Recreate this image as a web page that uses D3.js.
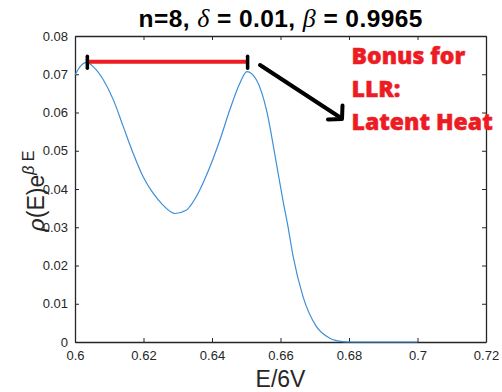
<!DOCTYPE html>
<html>
<head>
<meta charset="utf-8">
<script src="https://cdn.jsdelivr.net/npm/d3@7"></script>
<style>
  html, body { margin: 0; padding: 0; background: #fff; }
  svg { display: block; }
</style>
</head>
<body>
<svg id="chart" width="502" height="392"></svg>
<script>
// --- data ---
const energy = [0.6000, 0.6015, 0.6034, 0.6053, 0.6083, 0.6112, 0.6141, 0.6170, 0.6199,
  0.6228, 0.6257, 0.6292, 0.6326, 0.6335, 0.6364, 0.6394, 0.6423, 0.6452, 0.6481,
  0.6502, 0.6530, 0.6559, 0.6588, 0.6607, 0.6622, 0.6637, 0.6666, 0.6705, 0.6744,
  0.6782, 0.6802, 0.6900, 0.7000];
const rhoWeighted = [0.0698, 0.0720, 0.0731, 0.0720, 0.0685, 0.0633, 0.0563, 0.0493, 0.0432,
  0.0389, 0.0358, 0.0336, 0.0345, 0.0354, 0.0397, 0.0458, 0.0528, 0.0607, 0.0676,
  0.0707, 0.0685, 0.0607, 0.0467, 0.0371, 0.0301, 0.0223, 0.0118, 0.0040, 0.0010,
  0.0001, 0.0000, 0.0000, 0.0000];

const xTicks = [0.6, 0.62, 0.64, 0.66, 0.68, 0.7, 0.72];
const yTicks = [0, 0.01, 0.02, 0.03, 0.04, 0.05, 0.06, 0.07, 0.08];

// latent heat bar: between the two peaks
const barEnds = [0.6036, 0.6504];
const barLevel = 0.0733;
const noteLines = ["Bonus for", "LLR:", "Latent Heat"];

const margin = { top: 36, right: 16, bottom: 50, left: 75 };
const W = 502, H = 392;
const axisColor = "#262626";

const svg = d3.select("#chart");
const x = d3.scaleLinear().domain([0.6, 0.72]).range([margin.left, W - margin.right]);
const y = d3.scaleLinear().domain([0, 0.08]).range([H - margin.bottom, margin.top]);

// axes (MATLAB style box with inward ticks)
const fmt = d => String(+d.toFixed(2));
const gx = svg.append("g").attr("transform", `translate(0,${y(0)})`)
  .call(d3.axisBottom(x).tickValues(xTicks).tickFormat(fmt).tickSizeInner(-4).tickSizeOuter(0).tickPadding(9));
const gxTop = svg.append("g").attr("transform", `translate(0,${y(0.08)})`)
  .call(d3.axisTop(x).tickValues(xTicks).tickFormat("").tickSizeInner(-4).tickSizeOuter(0));
const gy = svg.append("g").attr("transform", `translate(${x(0.6)},0)`)
  .call(d3.axisLeft(y).tickValues(yTicks).tickFormat(fmt).tickSizeInner(-4).tickSizeOuter(0).tickPadding(7));
const gyRight = svg.append("g").attr("transform", `translate(${x(0.72)},0)`)
  .call(d3.axisRight(y).tickValues(yTicks).tickFormat("").tickSizeInner(-4).tickSizeOuter(0));

[gx, gxTop, gy, gyRight].forEach(g => {
  g.select(".domain").attr("stroke", axisColor).attr("stroke-width", 1.3);
  g.selectAll(".tick line").attr("stroke", axisColor).attr("stroke-width", 1);
  g.selectAll(".tick text").attr("fill", axisColor)
    .style("font-family", "'Liberation Sans', Arial, sans-serif").style("font-size", "13px");
});

// curve
const line = d3.line()
  .x((d, i) => x(energy[i]))
  .y(d => y(d))
  .curve(d3.curveMonotoneX);
svg.append("path")
  .datum(rhoWeighted)
  .attr("d", line)
  .attr("fill", "none")
  .attr("stroke", "#3d8fd8")
  .attr("stroke-width", 1.2);

// red bar with black end caps
svg.append("line")
  .attr("x1", x(barEnds[0])).attr("x2", x(barEnds[1]))
  .attr("y1", y(barLevel)).attr("y2", y(barLevel))
  .attr("stroke", "#ed1c24").attr("stroke-width", 4);
barEnds.forEach(e => {
  svg.append("line")
    .attr("x1", x(e)).attr("x2", x(e))
    .attr("y1", y(barLevel) - 5.5).attr("y2", y(barLevel) + 6.5)
    .attr("stroke", "#000").attr("stroke-width", 3.5).attr("stroke-linecap", "round");
});

// arrow
const arrow = svg.append("g").attr("stroke", "#000").attr("stroke-width", 4)
  .attr("fill", "none").attr("stroke-linecap", "round").attr("stroke-linejoin", "round");
arrow.append("line").attr("x1", 260).attr("y1", 65).attr("x2", 341).attr("y2", 118);
arrow.append("polyline").attr("points", "328,119.5 342,119 342.5,105.5");

// annotation
svg.append("g").selectAll("text").data(noteLines).enter().append("text")
  .attr("x", 351.5)
  .attr("y", (d, i) => 63.5 + i * 33.3)
  .attr("fill", "#ed1c24")
  .attr("stroke", "#ed1c24").attr("stroke-width", 0.5)
  .style("font-family", "'Open Sans', sans-serif")
  .style("font-weight", 800)
  .style("font-size", "23px")
  .text(d => d);

// title
const title = svg.append("text")
  .attr("x", (x(0.6) + x(0.72)) / 2).attr("y", 26.5)
  .attr("text-anchor", "middle").attr("fill", "#000")
  .attr("textLength", 284).attr("lengthAdjust", "spacing")
  .style("font-family", "'Liberation Sans', Arial, sans-serif")
  .style("font-weight", 700).style("font-size", "24.5px");
title.append("tspan").text("n=8, ");
title.append("tspan").text("δ").style("font-family", "'Liberation Serif', serif").style("font-style", "italic").style("font-weight", 400).style("font-size", "26px");
title.append("tspan").text(" = 0.01, ");
title.append("tspan").text("β").style("font-family", "'Liberation Serif', serif").style("font-style", "italic").style("font-weight", 400).style("font-size", "26px");
title.append("tspan").text(" = 0.9965");

// x label
svg.append("text")
  .attr("x", (x(0.6) + x(0.72)) / 2).attr("y", 387)
  .attr("text-anchor", "middle").attr("fill", axisColor)
  .style("font-family", "'Liberation Sans', Arial, sans-serif").style("font-size", "23px")
  .text("E/6V");

// y label
const yl = svg.append("text")
  .attr("transform", `translate(44,${(y(0) + y(0.08)) / 2 + 2}) rotate(-90)`)
  .attr("text-anchor", "middle").attr("fill", axisColor)
  .style("font-family", "'Liberation Sans', Arial, sans-serif").style("font-size", "23px");
yl.append("tspan").text("ρ").style("font-style", "italic");
yl.append("tspan").text("(E)e");
yl.append("tspan").attr("dy", -10).style("font-size", "16px").style("font-style", "italic").text("β");
yl.append("tspan").style("font-size", "16px").text(" E");
</script>
</body>
</html>
